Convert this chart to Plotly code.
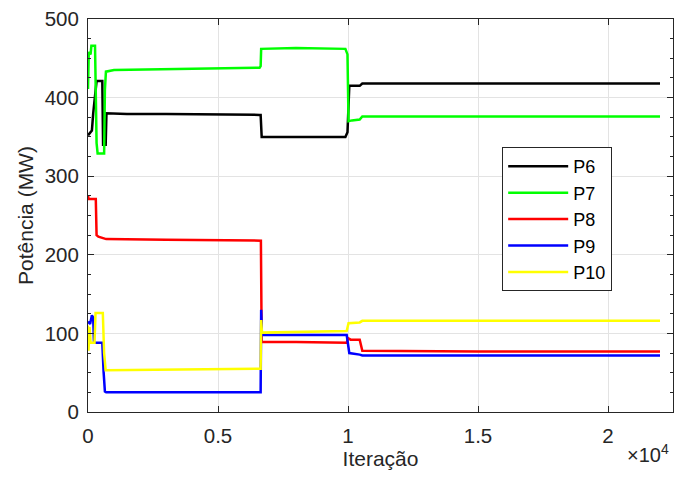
import plotly.graph_objects as go

# Iteration / power (MW)
p6_x = [0, 150, 200, 330, 550, 580, 680, 710, 1500, 3000, 6600, 6640, 6680, 8000, 9900, 9980, 10050, 10450, 10550, 15000, 22000]
p6_y = [352, 358, 380, 421, 421, 340, 340, 380, 379, 379, 378, 378, 350, 350, 350, 356, 415, 415, 418, 418, 418]

p7_x = [0, 30, 100, 130, 270, 300, 330, 370, 620, 650, 690, 1000, 3000, 6600, 6640, 6660, 8000, 9900, 9980, 10020, 10150, 10450, 10550, 15000, 22000]
p7_y = [411, 458, 455, 466, 466, 420, 342, 329, 329, 410, 433, 435, 436, 438, 440, 462, 463, 462, 455, 370, 371, 372, 376, 376, 376]

p8_x = [0, 20, 300, 330, 400, 650, 700, 3000, 6600, 6650, 6680, 8000, 9950, 10000, 10100, 10450, 10550, 15000, 22000]
p8_y = [276, 271, 271, 225, 223, 221, 220, 219, 218, 218, 89, 89, 88, 94, 92, 92, 78, 77, 77]

p9_x = [0, 80, 150, 200, 230, 550, 600, 650, 700, 6640, 6660, 6690, 9950, 10050, 10450, 10550, 22000]
p9_y = [115, 112, 123, 120, 88, 88, 51, 26, 25, 25, 130, 98, 98, 75, 73, 72, 72]

p10_x = [0, 20, 60, 100, 250, 290, 570, 620, 680, 3000, 6640, 6660, 6690, 9950, 10020, 10450, 10550, 22000]
p10_y = [110, 78, 108, 88, 88, 126, 126, 75, 53, 54, 55, 117, 101, 103, 113, 114, 116, 116]

names = ["P6", "P7", "P8", "P9", "P10"]
colors = ["#000000", "#00ff00", "#ff0000", "#0000ff", "#ffff00"]
xs = [p6_x, p7_x, p8_x, p9_x, p10_x]
ys = [p6_y, p7_y, p8_y, p9_y, p10_y]

x_tickvals = [0, 5000, 10000, 15000, 20000]
x_ticktext = ["0", "0.5", "1", "1.5", "2"]
y_tickvals = [0, 100, 200, 300, 400, 500]

FONT = "Liberation Sans, Arial, Helvetica, sans-serif"
AX = "#262626"

fig = go.Figure()
for n, c, x, y in zip(names, colors, xs, ys):
    fig.add_trace(go.Scatter(x=x, y=y, mode="lines", name=n, legendgroup=n,
                             line=dict(color=c, width=2.5)))

fig.update_layout(
    width=675, height=484,
    margin=dict(l=88, r=2, t=19, b=72),
    paper_bgcolor="white", plot_bgcolor="white",
    font=dict(family=FONT, size=20, color=AX),
    legend=dict(x=0.708, y=0.674, xanchor="left", yanchor="top",
                bgcolor="white", bordercolor=AX, borderwidth=1,
                font=dict(size=18, color="black"), tracegroupgap=0,
                itemwidth=60),
    annotations=[dict(text="×10<sup>4</sup>", x=0.957, y=-0.105, xref="paper", yref="paper",
                      showarrow=False, xanchor="center", yanchor="middle",
                      font=dict(size=20, color=AX))],
)
fig.update_xaxes(range=[0, 22500], tickvals=x_tickvals, ticktext=x_ticktext,
                 showline=True, linecolor=AX, linewidth=1, mirror="ticks",
                 ticks="inside", ticklen=6, tickcolor=AX, ticklabelstandoff=5,
                 tickfont=dict(size=20.5),
                 showgrid=True, gridcolor="#e3e3e3", gridwidth=1, zeroline=False,
                 title=dict(text="Iteração", standoff=2, font=dict(size=21, color=AX)))
fig.update_yaxes(range=[0, 500], tickvals=y_tickvals,
                 showline=True, linecolor=AX, linewidth=1, mirror="ticks",
                 ticks="inside", ticklen=6, tickcolor=AX, ticklabelstandoff=4,
                 tickfont=dict(size=20.5),
                 minor=dict(dtick=25, ticks="inside", ticklen=3, tickcolor=AX, showgrid=False),
                 showgrid=True, gridcolor="#e3e3e3", gridwidth=1, zeroline=False,
                 title=dict(text="Potência (MW)", standoff=5, font=dict(size=21, color=AX)))

fig.write_html("out.html")
